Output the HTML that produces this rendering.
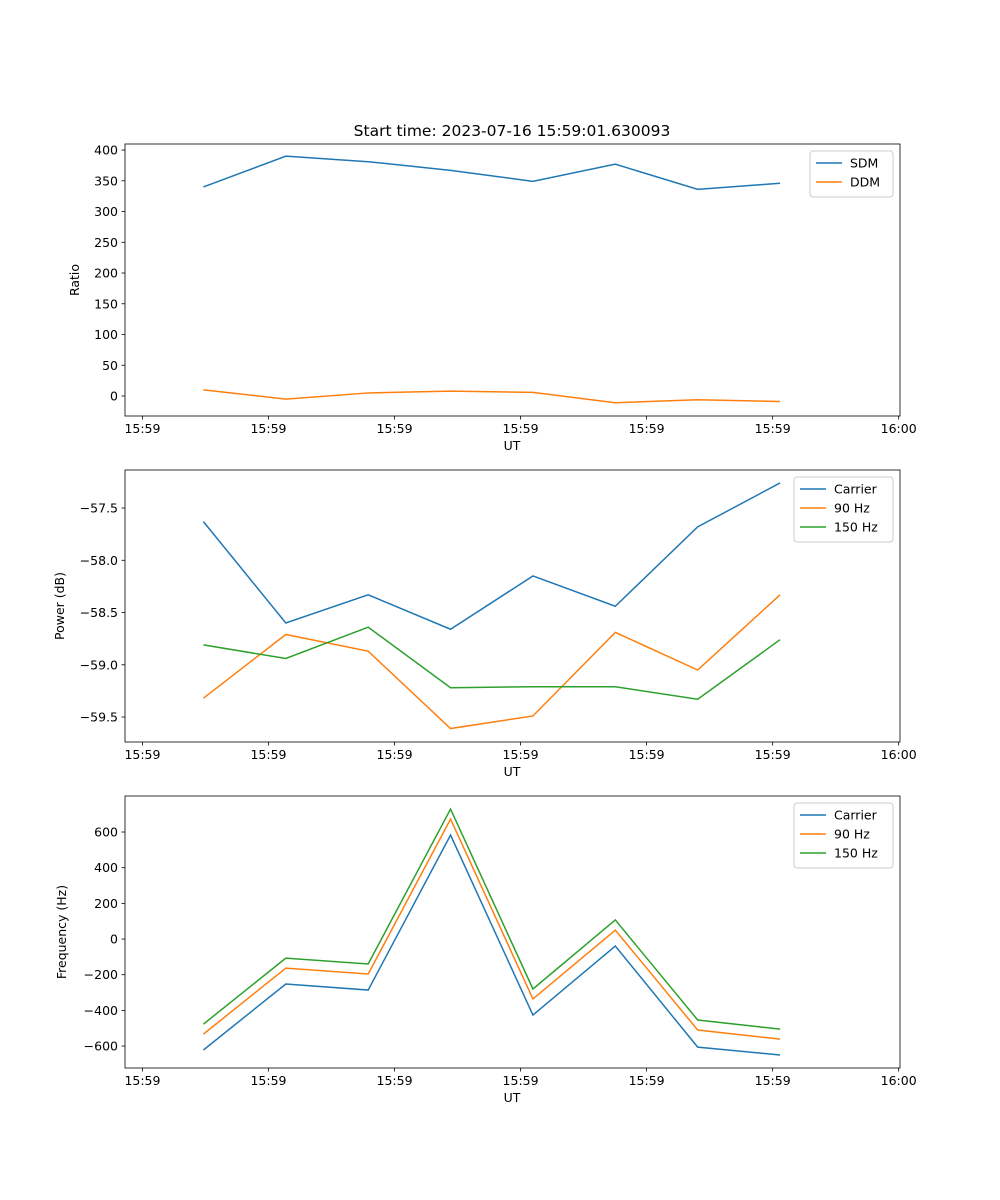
<!DOCTYPE html>
<html><head><meta charset="utf-8"><style>
body{margin:0;background:#fff}
svg{display:block;font-family:"DejaVu Sans","Liberation Sans",sans-serif}
</style></head><body>
<svg id="fig" width="1000" height="1200" viewBox="0 0 1000 1200" xmlns="http://www.w3.org/2000/svg">
<rect width="1000" height="1200" fill="#fff"/>
<text x="512" y="136" font-size="15.5" text-anchor="middle">Start time: 2023-07-16 15:59:01.630093</text>
</svg>
<script>
const xTickPos=[-0.74,0.79,2.32,3.85,5.38,6.91,8.44];
const xTickLabels=["15:59","15:59","15:59","15:59","15:59","15:59","16:00"];
const sdm=[340,390,381,367,349,377,336,346];
const ddm=[10,-5,5,8,6,-11,-6,-9];
const pCarrier=[-57.63,-58.60,-58.33,-58.66,-58.15,-58.44,-57.68,-57.26];
const p90=[-59.32,-58.71,-58.87,-59.61,-59.49,-58.69,-59.05,-58.33];
const p150=[-58.81,-58.94,-58.64,-59.22,-59.21,-59.21,-59.33,-58.76];
const fCarrier=[-622,-252,-286,583,-426,-39,-606,-650];
const f90=[-533,-163,-196,673,-336,50,-510,-561];
const f150=[-477,-107,-140,729,-280,107,-454,-505];
const yTicks1=[0,50,100,150,200,250,300,350,400];
const yTicks2=[-59.5,-59.0,-58.5,-58.0,-57.5];
const yTicks3=[-600,-400,-200,0,200,400,600];
const C=["#1f77b4","#ff7f0e","#2ca02c"];
const NS="http://www.w3.org/2000/svg";
const svg=document.getElementById('fig');
function mk(tag,attrs,parent,txt){const e=document.createElementNS(NS,tag);for(const k in attrs)e.setAttribute(k,attrs[k]);if(txt!==undefined)e.textContent=txt;(parent||svg).appendChild(e);return e;}
const X0=125,X1=900,IMIN=-0.952,IMAX=8.456;
function xs(i){return X0+(i-IMIN)/(IMAX-IMIN)*(X1-X0);}
function panel(name,top,bot,ymin,ymax,yt,fmt,ylabel,series,labels,legW){
  const g=mk('g',{});
  
  
  const ys=v=>bot-(v-ymin)/(ymax-ymin)*(bot-top);
  series.forEach((s,k)=>{
    const p=mk('polyline',{points:s.map((v,i)=>xs(i)+','+ys(v)).join(' '),fill:'none',stroke:C[k],'stroke-width':1.5},g);
    
    
  });
  const fr=mk('rect',{x:X0,y:top,width:X1-X0,height:bot-top,fill:'none',stroke:'#000','stroke-width':0.8},g);
  
  
  xTickPos.forEach((t,i)=>{const x=xs(t);mk('line',{x1:x,x2:x,y1:bot,y2:bot+3.5,stroke:'#000','stroke-width':0.8},g);
    const tl=mk('text',{x:x,y:bot+17,'font-size':12.5,'text-anchor':'middle'},g,xTickLabels[i]);
    
    });
  yt.forEach(v=>{const y=ys(v);mk('line',{x1:X0-3.5,x2:X0,y1:y,y2:y,stroke:'#000','stroke-width':0.8},g);
    const tl=mk('text',{x:X0-7,y:y+4.5,'font-size':12.5,'text-anchor':'end'},g,fmt(v));
    
    });
  const xl=mk('text',{x:512,y:bot+34,'font-size':12.5,'text-anchor':'middle'},g,'UT');
  
  
  const lx=ylabel[1],ly=(top+bot)/2;
  const yl=mk('text',{x:lx,y:ly,'font-size':12.5,'text-anchor':'middle',transform:`rotate(-90 ${lx} ${ly})`},g,ylabel[0]);
  
  
  const lg=mk('g',{},g);
  
  
  const lx0=X1-7-legW,ly0=top+7;
  mk('rect',{x:lx0,y:ly0,width:legW,height:8+labels.length*19,fill:'#fff',stroke:'#ccc',rx:3},lg);
  labels.forEach((l,k)=>{const y=ly0+12+k*19;
    mk('line',{x1:lx0+6,x2:lx0+32,y1:y,y2:y,stroke:C[k],'stroke-width':1.5},lg);
    const t=mk('text',{x:lx0+40,y:y+4.5,'font-size':12.5},lg,l);
    
    });
}
panel('ratio-panel',144,416,-32.5,409.8,yTicks1,v=>String(v),['Ratio',79],[sdm,ddm],['SDM','DDM'],83);
panel('power-panel',470,742,-59.739,-57.136,yTicks2,v=>v.toFixed(1).replace('-','\u2212'),['Power (dB)',64],[pCarrier,p90,p150],['Carrier','90 Hz','150 Hz'],99);
panel('frequency-panel',796,1068,-723,802,yTicks3,v=>String(v).replace('-','\u2212'),['Frequency (Hz)',66],[fCarrier,f90,f150],['Carrier','90 Hz','150 Hz'],99);
</script>
</body></html>
